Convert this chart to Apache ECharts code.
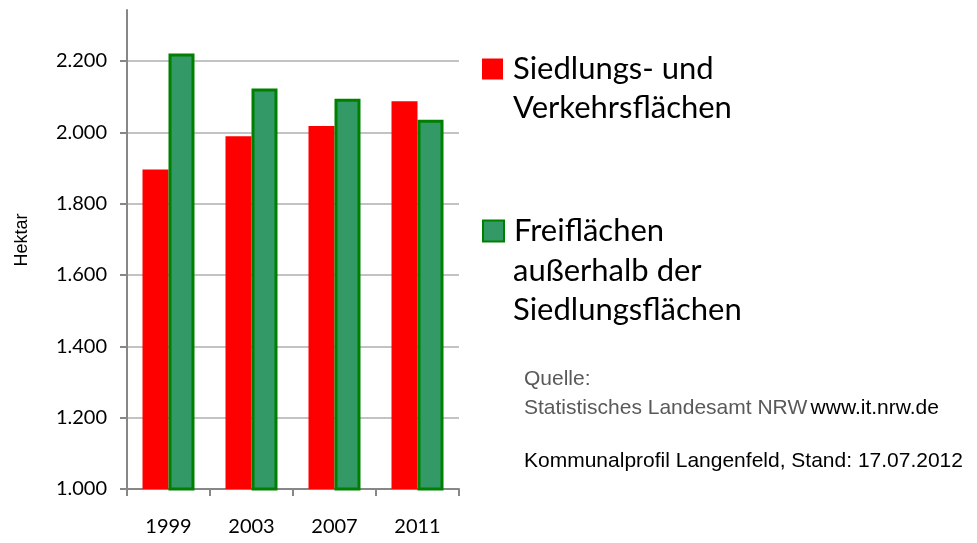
<!DOCTYPE html>
<html>
<head>
<meta charset="utf-8">
<script src="https://cdn.jsdelivr.net/npm/echarts@6/dist/echarts.min.js"></script>
<style>
  html, body { margin: 0; padding: 0; background: #fff; }
  #chart { width: 977px; height: 543px; }
</style>
</head>
<body>
<div id="chart"></div>
<script>
// Daten
const years = ["1999", "2003", "2007", "2011"];
const siedlung = [1896, 1989, 2018, 2087];
const frei = [2221, 2123, 2094, 2035];
const yTicks = [1000, 1200, 1400, 1600, 1800, 2000, 2200];

const nameSiedlung = "Siedlungs- und Verkehrsflächen";
const nameFrei = "Freiflächen außerhalb der Siedlungsflächen";

const chart = echarts.init(document.getElementById("chart"));

const axisColor = "#878787";
const labelFont = "Lato";
const legendSize = 31;
const noteSize = 21;

// Achse reicht oben über 2.200 hinaus (bis y=10)
const yMin = yTicks[0];
const yTop = yTicks[yTicks.length - 1];
const yMax = yMin + (yTop - yMin) * (489 - 10) / (489 - 61);

const option = {
  animation: false,
  grid: [
    { left: 127, right: 518, top: 10, bottom: 54 },
    // nur für die Striche an der y-Achse
    { left: 127, right: 518, top: 61, bottom: 54 },
  ],
  xAxis: [
    {
      type: "category",
      gridIndex: 0,
      data: years,
      axisLine: { lineStyle: { color: axisColor, width: 2 } },
      axisTick: { show: true, length: 7, lineStyle: { color: axisColor, width: 2 } },
      axisLabel: {
        color: "#000",
        fontFamily: labelFont,
        fontSize: 20,
        margin: 28,
      },
    },
    { type: "category", gridIndex: 1, show: false, data: years },
  ],
  yAxis: [
    {
      type: "value",
      gridIndex: 0,
      min: yMin,
      max: yMax,
      interval: 200,
      axisLine: { show: true, lineStyle: { color: axisColor, width: 2 } },
      axisTick: { show: false },
      splitLine: { showMaxLine: false, lineStyle: { color: "#c3c3c3", width: 2 } },
      axisLabel: {
        color: "#000",
        fontFamily: labelFont,
        fontSize: 20,
        margin: 20,
        formatter: function (v) {
          if (v % 200 !== 0) return "";
          return String(v).replace(/\B(?=(\d{3})+(?!\d))/g, ".");
        },
      },
    },
    {
      type: "value",
      gridIndex: 1,
      min: yMin,
      max: yTop,
      interval: 200,
      axisLine: { show: false },
      axisTick: { show: true, length: 7, lineStyle: { color: axisColor, width: 2 } },
      axisLabel: { show: false },
      splitLine: { show: false },
    },
  ],
  legend: [
    {
      data: [nameSiedlung],
      left: 482,
      top: 50,
      padding: 0,
      icon: "rect",
      itemWidth: 21,
      itemHeight: 21,
      selectedMode: false,
      formatter: function () { return "Siedlungs- und"; },
      textStyle: { fontFamily: labelFont, fontSize: legendSize, color: "#000", lineHeight: 38, padding: [0, 0, 0, 5] },
    },
    {
      data: [nameFrei],
      left: 482,
      top: 212,
      padding: 0,
      icon: "rect",
      itemWidth: 21,
      itemHeight: 21,
      selectedMode: false,
      formatter: function () { return "Freiflächen"; },
      textStyle: { fontFamily: labelFont, fontSize: legendSize, color: "#000", lineHeight: 38, padding: [0, 0, 0, 5] },
    },
  ],
  graphic: [
    {
      type: "text",
      x: 22,
      y: 240,
      rotation: Math.PI / 2,
      style: {
        text: "Hektar",
        fontFamily: "Liberation Sans",
        fontSize: 18,
        fill: "#000",
        align: "center",
        verticalAlign: "middle",
      },
    },
    { type: "text", x: 513, y: 108, style: { text: "Verkehrsflächen", fontFamily: labelFont, fontSize: legendSize, fill: "#000", verticalAlign: "middle" } },
    { type: "text", x: 513, y: 271, style: { text: "außerhalb der", fontFamily: labelFont, fontSize: legendSize, fill: "#000", verticalAlign: "middle" } },
    { type: "text", x: 513, y: 310, style: { text: "Siedlungsflächen", fontFamily: labelFont, fontSize: legendSize, fill: "#000", verticalAlign: "middle" } },
    { type: "text", x: 524, y: 379, style: { text: "Quelle:", fontFamily: "Liberation Sans", fontSize: noteSize, fill: "#595959", verticalAlign: "middle" } },
    {
      type: "text",
      x: 524,
      y: 408,
      style: {
        text: "{g|Statistisches Landesamt NRW} {b|www.it.nrw.de}",
        verticalAlign: "middle",
        rich: {
          g: { fontFamily: "Liberation Sans", fontSize: noteSize, fill: "#595959", color: "#595959" },
          b: { fontFamily: "Liberation Sans", fontSize: noteSize, fill: "#000", color: "#000" },
        },
      },
    },
    { type: "text", x: 524, y: 461, style: { text: "Kommunalprofil Langenfeld, Stand: 17.07.2012", fontFamily: "Liberation Sans", fontSize: noteSize, fill: "#000", verticalAlign: "middle" } },
  ],
  series: [
    {
      name: nameSiedlung,
      type: "bar",
      xAxisIndex: 0,
      yAxisIndex: 0,
      data: siedlung,
      barWidth: 26,
      barGap: "0%",
      itemStyle: { color: "#ff0000" },
    },
    {
      name: nameFrei,
      type: "bar",
      xAxisIndex: 0,
      yAxisIndex: 0,
      data: frei,
      barWidth: 26,
      barGap: "0%",
      itemStyle: { color: "#339966", borderColor: "#008000", borderWidth: 3 },
    },
  ],
};

chart.setOption(option);
</script>
</body>
</html>
